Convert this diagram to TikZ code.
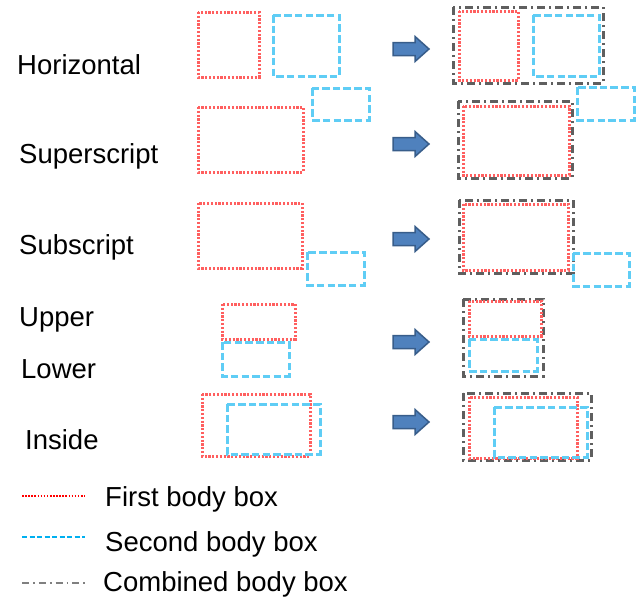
\documentclass[tikz,border=0pt]{standalone}
\usepackage{fontspec}
\setmainfont{Liberation Sans}
\definecolor{firstc}{RGB}{255,95,95}
\definecolor{secondc}{RGB}{95,205,245}
\definecolor{combc}{RGB}{95,95,95}
\definecolor{arrowfill}{RGB}{79,129,189}
\definecolor{arrowdraw}{RGB}{56,93,138}
\definecolor{firstlegc}{RGB}{255,0,0}
\definecolor{secondlegc}{RGB}{0,176,240}
\definecolor{comblegc}{RGB}{128,128,128}
\begin{document}
\begin{tikzpicture}[x=1pt,y=-1pt,
  lbl/.style={anchor=base west,inner sep=0pt,font=\fontsize{27.5}{33}\selectfont},
  firstbox/.style={draw=firstc,line width=3pt,dash pattern=on 2.2pt off 1.6pt},
  secondbox/.style={draw=secondc,line width=3pt,dash pattern=on 7.5pt off 3.2pt},
  combbox/.style={draw=combc,line width=3pt,dash pattern=on 8pt off 4pt on 2pt off 4pt},
  blockarrow/.style={fill=arrowfill,draw=arrowdraw,line width=1.5pt,line join=miter},
  firstleg/.style={draw=firstlegc,line width=1.6pt,dash pattern=on 1.6pt off 1.5pt},
  secondleg/.style={draw=secondlegc,line width=1.6pt,dash pattern=on 5pt off 2.5pt},
  combleg/.style={draw=comblegc,line width=1.8pt,dash pattern=on 7pt off 4pt on 1.8pt off 4pt}]
\useasboundingbox (0,0) rectangle (637,597);

% row labels
\node[lbl] (lh) at (17,74) {Horizontal};
\node[lbl] (ls) at (19,163) {Superscript};
\node[lbl] (lsb) at (19,254) {Subscript};
\node[lbl] (lu) at (19,326) {Upper};
\node[lbl] (ll) at (21,378) {Lower};
\node[lbl] (li) at (25,449) {Inside};

% block arrow: argument = vertical centre
\newcommand{\blkarrow}[1]{%
  \draw[blockarrow] (393,#1-6.5) -- (415,#1-6.5) -- (415,#1-12.5) -- (429,#1) --
    (415,#1+12.5) -- (415,#1+6.5) -- (393,#1+6.5) -- cycle;}

% Horizontal
\draw[firstbox] (198,12) rectangle (259,77);
\draw[secondbox] (273,15) rectangle (339,76);
\blkarrow{49}
\draw[combbox] (453,7) rectangle (603,83);
\draw[firstbox] (459,11) rectangle (518,80);
\draw[secondbox] (533,15) rectangle (599,76);

% Superscript
\draw[firstbox] (198,107) rectangle (303,172);
\draw[secondbox] (312,88) rectangle (369,120);
\blkarrow{144}
\draw[combbox] (458,101) rectangle (572,178);
\draw[firstbox] (463,106) rectangle (569,175);
\draw[secondbox] (577,87) rectangle (634,120);

% Subscript
\draw[firstbox] (198,203) rectangle (302,268);
\draw[secondbox] (307,252) rectangle (364,285);
\blkarrow{239}
\draw[combbox] (459,200) rectangle (573,273);
\draw[firstbox] (463,204) rectangle (568,270);
\draw[secondbox] (573,253) rectangle (629,286);

% Upper / Lower
\draw[firstbox] (222,304) rectangle (295,339);
\draw[secondbox] (222,342) rectangle (289,376);
\blkarrow{342}
\draw[combbox] (463,299) rectangle (543,376);
\draw[firstbox] (469,301) rectangle (541,336);
\draw[secondbox] (469,339) rectangle (537,371);

% Inside
\draw[firstbox] (202,394) rectangle (310,456);
\draw[secondbox] (227,404) rectangle (320,454);
\blkarrow{422}
\draw[combbox] (463,393) rectangle (591,460);
\draw[firstbox] (469,397) rectangle (577,458);
\draw[secondbox] (494,407) rectangle (587,457);

% legend
\coordinate (a1) at (22,496); \coordinate (b1) at (85,496);
\coordinate (a2) at (22,537); \coordinate (b2) at (85,537);
\coordinate (a3) at (22,583); \coordinate (b3) at (85,583);
\draw[firstleg] (a1) -- (b1);
\draw[secondleg] (a2) -- (b2);
\draw[combleg] (a3) -- (b3);
\node[lbl] (t1) at (105,506) {First body box};
\node[lbl] (t2) at (105,551) {Second body box};
\node[lbl] (t3) at (103,591) {Combined body box};
\end{tikzpicture}
\end{document}
